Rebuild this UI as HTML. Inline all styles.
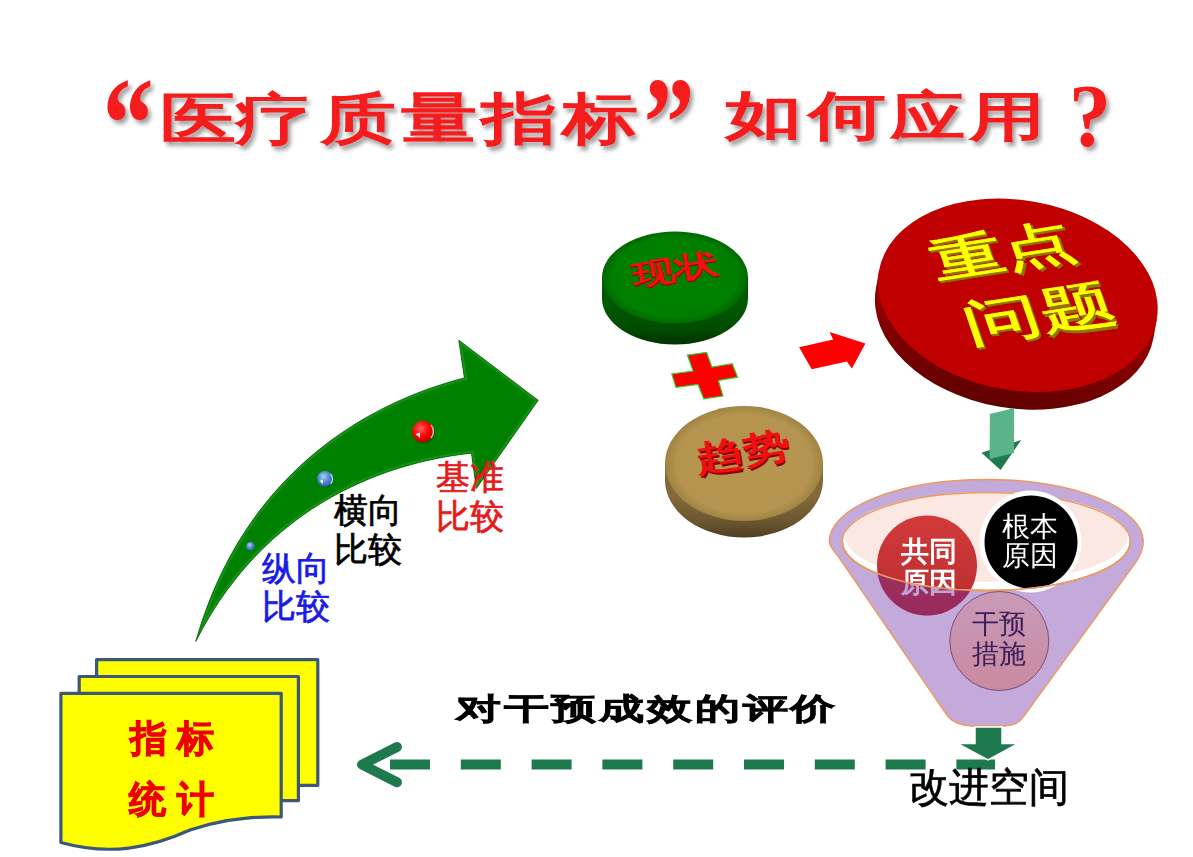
<!DOCTYPE html>
<html><head><meta charset="utf-8">
<style>
html,body{margin:0;padding:0;background:#fff;width:1193px;height:857px;overflow:hidden;}
svg{position:absolute;left:0;top:0;font-family:"Liberation Sans",sans-serif;}
</style></head><body>
<svg width="1193" height="857" viewBox="0 0 1193 857">
<defs>
  <filter id="tsh" x="-20%" y="-20%" width="150%" height="150%">
    <feGaussianBlur in="SourceAlpha" stdDeviation="2.2"/>
    <feOffset dx="3" dy="4" result="b"/>
    <feComponentTransfer><feFuncA type="linear" slope="0.38"/></feComponentTransfer>
    <feMerge><feMergeNode/><feMergeNode in="SourceGraphic"/></feMerge>
  </filter>
  <radialGradient id="redball" cx="0.4" cy="0.35" r="0.7">
    <stop offset="0" stop-color="#ff6060"/><stop offset="0.55" stop-color="#ff0000"/><stop offset="1" stop-color="#b00000"/>
  </radialGradient>
  <radialGradient id="blueball" cx="0.4" cy="0.35" r="0.7">
    <stop offset="0" stop-color="#a8cdf0"/><stop offset="0.55" stop-color="#4a88d0"/><stop offset="1" stop-color="#2a5a98"/>
  </radialGradient>
  <linearGradient id="gside" x1="0" y1="0" x2="0" y2="1">
    <stop offset="0.45" stop-color="#005800"/><stop offset="0.8" stop-color="#004a00"/><stop offset="1" stop-color="#003000"/>
  </linearGradient>
  <linearGradient id="tside" x1="0" y1="0" x2="0" y2="1">
    <stop offset="0.45" stop-color="#82693a"/><stop offset="0.8" stop-color="#6a552e"/><stop offset="1" stop-color="#4e3e20"/>
  </linearGradient>
  <radialGradient id="gface" cx="0.5" cy="0.5" r="0.5">
    <stop offset="0" stop-color="#008000"/><stop offset="0.86" stop-color="#007e00"/><stop offset="1" stop-color="#006800"/>
  </radialGradient>
  <radialGradient id="tface" cx="0.5" cy="0.5" r="0.5">
    <stop offset="0" stop-color="#b6964f"/><stop offset="0.86" stop-color="#b4944e"/><stop offset="1" stop-color="#a08344"/>
  </radialGradient>
  <linearGradient id="rside" x1="0" y1="0" x2="0" y2="1">
    <stop offset="0" stop-color="#a00000"/><stop offset="1" stop-color="#600000"/>
  </linearGradient>
  <linearGradient id="gongtong" x1="0" y1="0" x2="0" y2="1">
    <stop offset="0" stop-color="#d23a3a"/><stop offset="1" stop-color="#b82c30"/>
  </linearGradient>
  <linearGradient id="ganyu" x1="0" y1="0" x2="0" y2="1">
    <stop offset="0" stop-color="#c99ab8"/><stop offset="1" stop-color="#c98aa0"/>
  </linearGradient>
</defs>

<!-- TITLE -->
<g fill="#f41a1a" font-weight="bold" filter="url(#tsh)" font-size="80" text-anchor="middle">
  <text transform="translate(128,168) scale(0.93,1.19)" y="0" font-size="110" font-family="Liberation Serif">“</text>
  <text transform="translate(198.5,117.5) scale(0.95,0.70)" y="29.6">医</text>
  <text transform="translate(273.5,117) scale(0.95,0.70)" y="29.6">疗</text>
  <text transform="translate(358,117) scale(0.95,0.70)" y="29.6">质</text>
  <text transform="translate(439.5,116.5) scale(0.95,0.70)" y="29.6">量</text>
  <text transform="translate(519,117) scale(0.95,0.70)" y="29.6">指</text>
  <text transform="translate(600.5,117) scale(0.95,0.70)" y="29.6">标</text>
  <text transform="translate(669,168) scale(0.93,1.19)" y="0" font-size="110" font-family="Liberation Serif">”</text>
  <text transform="translate(764,114) scale(0.98,0.655)" y="29.6">如</text>
  <text transform="translate(847,114.5) scale(0.97,0.66)" y="29.6">何</text>
  <text transform="translate(927.5,114.5) scale(0.95,0.68)" y="29.6">应</text>
  <text transform="translate(1006.5,115) scale(0.95,0.66)" y="29.6">用</text>
  <text transform="translate(1090,121) scale(1.05,1.1)" y="22" font-size="80" font-family="Liberation Serif" font-weight="bold">?</text>
</g>

<!-- GREEN CURVED ARROW -->
<clipPath id="arrclip"><path id="arrp" d="M195.8,641.4 C242.8,475.6 363.7,403.8 464.4,377.9 L458.8,340.2 L538.2,400.3 L476.3,488.5 L471.5,453.2 C413.5,459.2 273.6,487.7 195.8,641.4 Z"/></clipPath>
<path d="M195.8,641.4 C242.8,475.6 363.7,403.8 464.4,377.9 L458.8,340.2 L538.2,400.3 L476.3,488.5 L471.5,453.2 C413.5,459.2 273.6,487.7 195.8,641.4 Z" fill="#008000"/>
<g clip-path="url(#arrclip)"><path d="M195.8,641.4 C242.8,475.6 363.7,403.8 464.4,377.9 L458.8,340.2 L538.2,400.3 L476.3,488.5 L471.5,453.2 C413.5,459.2 273.6,487.7 195.8,641.4 Z" fill="none" stroke="#1f9a1f" stroke-width="5" opacity="0.7"/></g>
<path d="M195.8,641.4 C242.8,475.6 363.7,403.8 464.4,377.9 L458.8,340.2 L538.2,400.3 L476.3,488.5 L471.5,453.2 C413.5,459.2 273.6,487.7 195.8,641.4 Z" fill="none" stroke="#006000" stroke-width="0.8"/>
<circle cx="424" cy="433" r="11" fill="#004000" opacity="0.35"/>
<circle cx="423" cy="431.6" r="10.8" fill="url(#redball)"/>
<path d="M415.5,434 L420,432.5 L420,438 Z" fill="#fff" opacity="0.9"/>
<path d="M431,425 A10,10 0 0 1 431,438" fill="none" stroke="#ffd0d0" stroke-width="1.5" opacity="0.8"/>
<circle cx="325.8" cy="479.8" r="8" fill="#004000" opacity="0.35"/>
<circle cx="325.1" cy="478.8" r="7.8" fill="url(#blueball)"/>
<path d="M319.5,481 L323,479.5 L323,484 Z" fill="#fff" opacity="0.9"/>
<path d="M330.5,474 A7,7 0 0 1 330.5,484" fill="none" stroke="#d8f0ff" stroke-width="1.3" opacity="0.8"/>
<circle cx="250.5" cy="546.3" r="4.3" fill="url(#blueball)"/>

<!-- labels -->
<g font-size="34" text-anchor="start" stroke-width="0.7">
  <text x="262" y="579.5" fill="#1a1ae6" stroke="#1a1ae6">纵向</text>
  <text x="262" y="618" fill="#1a1ae6" stroke="#1a1ae6">比较</text>
  <text x="334" y="521.5" fill="#000" stroke="#000">横向</text>
  <text x="334" y="561" fill="#000" stroke="#000">比较</text>
  <text x="435.5" y="488.5" fill="#e61a1a" stroke="#e61a1a">基准</text>
  <text x="435.5" y="528.3" fill="#e61a1a" stroke="#e61a1a">比较</text>
</g>

<!-- GREEN DISC 现状 -->
<path d="M602,277.5 L602,298.5 A73,46 0 0 0 748,298.5 L748,277.5 Z" fill="url(#gside)"/>
<ellipse cx="675" cy="277.5" rx="73" ry="46" fill="url(#gface)"/>
<g transform="matrix(0.99,-0.16,0.12,0.66,675,269.5)">
  <text text-anchor="middle" y="14" font-size="43" font-weight="bold" fill="#8a0000" transform="translate(1.2,2.6)">现状</text>
  <text text-anchor="middle" y="14" font-size="43" font-weight="bold" fill="#f01010">现状</text>
</g>

<!-- PLUS -->
<polygon points="687.4,355.1 706.6,352.3 711.9,367 732.3,363.7 737.6,377.2 718.4,380.4 722.9,396 703.7,398.8 698,384.5 675.9,387.4 671.8,373.9 693.1,371" fill="#ff0000" stroke="#33cc33" stroke-width="1.2"/>

<!-- TAN DISC 趋势 -->
<path d="M665,463.5 L665,480 A79,57.5 0 0 0 823,480 L823,463.5 Z" fill="url(#tside)"/>
<ellipse cx="744" cy="463.5" rx="79" ry="57.5" fill="url(#tface)"/>
<g transform="matrix(0.99,-0.17,0.12,0.74,743,452.5)">
  <text text-anchor="middle" y="16" font-size="47" font-weight="bold" fill="#8a0000" transform="translate(1.2,2.8)">趋势</text>
  <text text-anchor="middle" y="16" font-size="47" font-weight="bold" fill="#f01010">趋势</text>
</g>

<!-- RED ARROW -->
<polygon points="799.1,347.3 833.2,339.4 829.5,331.9 865.4,343.6 851.9,368.4 846.8,361.4 811.7,369.3" fill="#ff0000"/>

<!-- RED DISC 重点问题 -->
<g transform="rotate(10 1016 300)">
  <path d="M876,295 L876,313 A141,95 0 0 0 1158,313 L1158,295 Z" fill="url(#rside)"/>
  <ellipse cx="1017" cy="295" rx="141" ry="95" fill="#c00000"/>
</g>
<g transform="matrix(0.99,-0.155,0.22,0.64,1002.5,249.5)" font-size="72" text-anchor="middle">
  <text y="27" fill="#8a7a00" stroke="#8a7a00" stroke-width="1.4" transform="translate(1.5,4)">重点</text>
  <text y="27" fill="#ffff00" stroke="#ffff00" stroke-width="1.4">重点</text>
</g>
<g transform="matrix(0.99,-0.155,0.22,0.64,1039,313)" font-size="76" text-anchor="middle">
  <text y="27" fill="#8a7a00" stroke="#8a7a00" stroke-width="1.4" transform="translate(1.5,4)">问题</text>
  <text y="27" fill="#ffff00" stroke="#ffff00" stroke-width="1.4">问题</text>
</g>

<!-- GREEN DOWN ARROW (teal) -->
<polygon points="981.5,452.8 1021.2,440.1 1000.6,470" fill="#1f7a4c"/>
<polygon points="989.9,414 1014.2,407.9 1014,453 989.6,459" fill="#5ab488"/>

<!-- FUNNEL -->
<path d="M829.3,541.5 A157,62 0 0 1 1143.3,541.5 C1143.3,550 1140,556 1136,562 L1024,716 Q1018,726 1004,726 L972,726 Q955,725 947.5,716 L838,556 C833,550 829.3,546 829.3,541.5 Z" fill="#c4aadb" stroke="#ec9a5e" stroke-width="1.4"/>
<ellipse cx="986.3" cy="541.5" rx="144" ry="49" fill="#ffffff"/>
<ellipse cx="986.3" cy="537" rx="141" ry="45" fill="#fbe8e2"/>
<ellipse cx="986.3" cy="541.5" rx="144" ry="49" fill="none" stroke="#ec9a5e" stroke-width="1.4"/>

<!-- circles -->
<circle cx="927" cy="565.5" r="50" fill="url(#gongtong)"/>
<circle cx="1030.5" cy="541.5" r="51" fill="#fff"/>
<circle cx="1031" cy="542" r="46.5" fill="#000"/>
<!-- funnel front overlay below rim for purple tint -->
<clipPath id="belowrim"><path d="M842.3,541.5 A144,49 0 0 0 1130.3,541.5 L1152,541 L1152,760 L820,760 L820,541 Z"/></clipPath>

<path d="M842.3,541.5 A144,49 0 0 0 1130.3,541.5" fill="none" stroke="#ec9a5e" stroke-width="1.4"/>
<circle cx="999.3" cy="641" r="49.5" fill="url(#ganyu)" stroke="#6a3a6a" stroke-width="0.8"/>

<g font-size="28" text-anchor="middle">
  <text x="929" y="560.5" fill="#fff" font-weight="bold">共同</text>
  <text x="929" y="591.5" fill="#fff" font-weight="bold">原因</text>
  <text x="1030" y="535.5" fill="#fff">根本</text>
  <text x="1030" y="565" fill="#fff">原因</text>
  <text x="999" y="633" fill="#3c1c58" font-size="27">干预</text>
  <text x="999" y="662.5" fill="#3c1c58" font-size="27">措施</text>
</g>

<clipPath id="gtclip"><circle cx="927" cy="565.5" r="50"/></clipPath>
<g clip-path="url(#belowrim)"><g clip-path="url(#gtclip)">
  <rect x="870" y="500" width="120" height="130" fill="#6a2a9a" opacity="0.42"/>
</g></g>
<path d="M842.3,541.5 A144,49 0 0 0 1130.3,541.5" fill="none" stroke="#ec9a5e" stroke-width="1.4"/>
<!-- dashed arrow -->
<line x1="390" y1="764.6" x2="995" y2="764.6" stroke="#1e7a4c" stroke-width="10" stroke-dasharray="40 30.8"/>
<polyline points="397,747 362,764.6 397,782.2" fill="none" stroke="#1e7a4c" stroke-width="10" stroke-linecap="round" stroke-linejoin="round"/>

<!-- green arrow below funnel -->
<polygon points="975,727 1002,727 1002,743.6 1018,743.6 988,760 957.7,743.6 975,743.6" fill="#1e7a4c" stroke="#ffffff" stroke-width="1.5"/>

<!-- 对干预成效的评价 -->
<text transform="translate(647,708.5) scale(1.023,0.68)" y="15" text-anchor="middle" font-size="44" font-weight="bold" fill="#000" stroke="#000" stroke-width="0.9" letter-spacing="3">对干预成效的评价</text>

<!-- 改进空间 -->
<text x="909" y="801" font-size="40" fill="#000" stroke="#000" stroke-width="0.7">改进空间</text>

<!-- DOCUMENT STACK -->
<g stroke="#3b5878" stroke-width="3.2" fill="#ffff00" stroke-linejoin="round">
  <path d="M96.6,659.6 L317.8,659.6 L317.8,785.4 L96.6,785.4 Z"/>
  <path d="M79.2,676.5 L298.4,676.5 L298.4,800.7 L79.2,800.7 Z"/>
  <path d="M60.9,693.4 L281.2,693.4 L281.2,817 C250,816 220,820 190,830 C150,848 110,856 60.9,842.5 Z"/>
</g>
<g font-size="37" font-weight="bold" fill="#ee0000" stroke="#ee0000" stroke-width="1">
  <text x="130" y="751">指</text>
  <text x="177" y="751">标</text>
  <text x="129" y="812">统</text>
  <text x="177" y="812">计</text>
</g>
</svg>
</body></html>
